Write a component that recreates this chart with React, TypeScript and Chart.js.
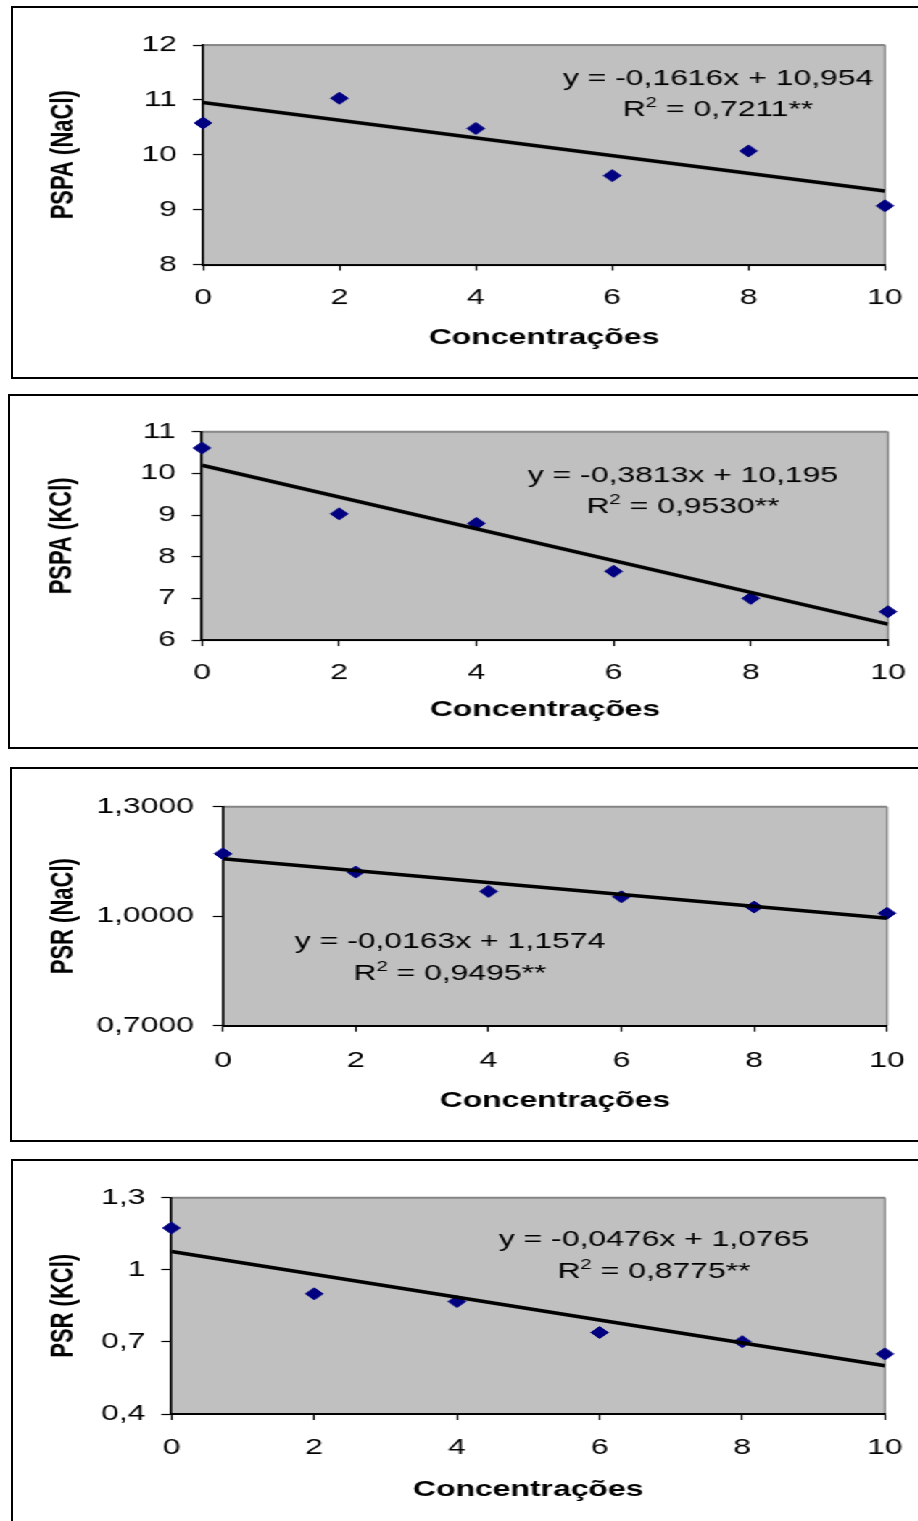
import React, { useEffect, useRef } from "react";
import { Chart, registerables } from "chart.js";

Chart.register(...registerables);

// ---------- data ----------
const xValues = [0, 2, 4, 6, 8, 10];
const xTicks = [0, 2, 4, 6, 8, 10];
const xTickLabels = ["0", "2", "4", "6", "8", "10"];
const xTitle = "Concentrações";

const pspaNaCl = [10.58, 11.03, 10.48, 9.62, 10.07, 9.07];
const pspaKCl = [10.61, 9.03, 8.8, 7.65, 7.0, 6.68];
const psrNaCl = [1.171, 1.121, 1.068, 1.053, 1.025, 1.008];
const psrKCl = [1.174, 0.9, 0.868, 0.739, 0.701, 0.65];

const trendX = [0, 10];
const trendPspaNaCl = [10.954, 9.338];
const trendPspaKCl = [10.195, 6.382];
const trendPsrNaCl = [1.1574, 0.9944];
const trendPsrKCl = [1.0765, 0.6005];

const yTicksPspaNaCl = [8, 9, 10, 11, 12];
const yTickLabelsPspaNaCl = ["8", "9", "10", "11", "12"];
const yTicksPspaKCl = [6, 7, 8, 9, 10, 11];
const yTickLabelsPspaKCl = ["6", "7", "8", "9", "10", "11"];
const yTicksPsrNaCl = [0.7, 1.0, 1.3];
const yTickLabelsPsrNaCl = ["0,7000", "1,0000", "1,3000"];
const yTicksPsrKCl = [0.4, 0.7, 1.0, 1.3];
const yTickLabelsPsrKCl = ["0,4", "0,7", "1", "1,3"];

const yTitles = ["PSPA (NaCl)", "PSPA (KCl)", "PSR (NaCl)", "PSR (KCl)"];
const equations = [
  "y = -0,1616x + 10,954",
  "y = -0,3813x + 10,195",
  "y = -0,0163x + 1,1574",
  "y = -0,0476x + 1,0765",
];
const r2Values = ["0,7211**", "0,9530**", "0,9495**", "0,8775**"];

// ---------- layout (final page pixels) ----------
const S = 1.45; // horizontal stretch of the original figure
const WU = 634; // unscaled canvas width
const XH = 100; // x-axis box height
const FAMILY = '"Liberation Sans", Arial, Helvetica, sans-serif';

const layouts = [
  { box: { l: 11.5, t: 7, b: 378 }, plot: { l: 203, r: 885, t: 45, b: 264.5 }, yTitleX: 64, xLabelY: 298, xTitleY: 338, yPad: 11, eq: { cx: 718, b1: 85, b2: 116 } },
  { box: { l: 9, t: 395, b: 748 }, plot: { l: 202, r: 888, t: 431.7, b: 640 }, yTitleX: 62, xLabelY: 673, xTitleY: 710, yPad: 11, eq: { cx: 683, b1: 482, b2: 513 } },
  { box: { l: 10.5, t: 768, b: 1141 }, plot: { l: 223, r: 887, t: 806.7, b: 1025.7 }, yTitleX: 64, xLabelY: 1061, xTitleY: 1101, yPad: 13, eq: { cx: 450, b1: 948, b2: 980 } },
  { box: { l: 11.5, t: 1160, b: 1560 }, plot: { l: 171.5, r: 885, t: 1197.7, b: 1414 }, yTitleX: 64, xLabelY: 1448, xTitleY: 1490, yPad: 11, eq: { cx: 654, b1: 1246, b2: 1278 } },
];

const panels = [
  { y: pspaNaCl, trend: trendPspaNaCl, yTicks: yTicksPspaNaCl, yLabels: yTickLabelsPspaNaCl },
  { y: pspaKCl, trend: trendPspaKCl, yTicks: yTicksPspaKCl, yLabels: yTickLabelsPspaKCl },
  { y: psrNaCl, trend: trendPsrNaCl, yTicks: yTicksPsrNaCl, yLabels: yTickLabelsPsrNaCl },
  { y: psrKCl, trend: trendPsrKCl, yTicks: yTicksPsrKCl, yLabels: yTickLabelsPsrKCl },
];

function canvasGeom(i: number) {
  const L = layouts[i];
  const top = L.box.t + 2;
  const bottom = Math.min(L.box.b - 2, 1521);
  return { top, height: Math.round(bottom - top) };
}

function Panel({ idx }: { idx: number }) {
  const ref = useRef<HTMLCanvasElement | null>(null);
  const L = layouts[idx];
  const P = panels[idx];
  const g = canvasGeom(idx);

  useEffect(() => {
    const canvas = ref.current;
    if (!canvas) return;
    const plotTop = L.plot.t - g.top;
    const plotBottom = L.plot.b - g.top;
    const padBottom = g.height - plotBottom - XH;
    const xTickPad = L.xLabelY - L.plot.b - 6 - 13.2;
    const xTitlePadB = XH - 13.2 - (L.xTitleY - L.plot.b);
    const yTitlePadT = L.yTitleX / S - 13.2;

    const bgPlugin = {
      id: "plotBg",
      beforeDraw(chart: any) {
        const { ctx, chartArea: a } = chart;
        ctx.save();
        ctx.fillStyle = "#C0C0C0";
        ctx.fillRect(a.left, a.top, a.right - a.left, a.bottom - a.top);
        ctx.strokeStyle = "#858585";
        ctx.lineWidth = 2;
        ctx.beginPath();
        ctx.moveTo(a.left, a.top);
        ctx.lineTo(a.right, a.top);
        ctx.stroke();
        ctx.lineWidth = 1.4;
        ctx.beginPath();
        ctx.moveTo(a.right, a.top);
        ctx.lineTo(a.right, a.bottom);
        ctx.stroke();
        ctx.restore();
      },
    };

    const eqPlugin = {
      id: "equation",
      afterDraw(chart: any) {
        const ctx = chart.ctx;
        ctx.save();
        ctx.fillStyle = "#000";
        ctx.textBaseline = "alphabetic";
        const cx = L.eq.cx / S;
        ctx.font = `22px ${FAMILY}`;
        ctx.textAlign = "center";
        ctx.fillText(equations[idx], cx, L.eq.b1 - g.top);
        const a = "R";
        const b = "2";
        const c = " = " + r2Values[idx];
        ctx.font = `22px ${FAMILY}`;
        const wa = ctx.measureText(a).width;
        const wc = ctx.measureText(c).width;
        ctx.font = `14px ${FAMILY}`;
        const wb = ctx.measureText(b).width;
        const total = wa + wb + wc;
        let x = cx - total / 2;
        const y2 = L.eq.b2 - g.top;
        ctx.textAlign = "left";
        ctx.font = `22px ${FAMILY}`;
        ctx.fillText(a, x, y2);
        x += wa;
        ctx.font = `14px ${FAMILY}`;
        ctx.fillText(b, x, y2 - 9);
        x += wb;
        ctx.font = `22px ${FAMILY}`;
        ctx.fillText(c, x, y2);
        ctx.restore();
      },
    };

    const chart = new Chart(canvas, {
      type: "scatter",
      data: {
        datasets: [
          {
            type: "line",
            data: trendX.map((x, i) => ({ x, y: P.trend[i] })),
            borderColor: "#000",
            borderWidth: 3.5,
            pointRadius: 0,
            tension: 0,
            fill: false,
          } as any,
          {
            type: "scatter",
            data: xValues.map((x, i) => ({ x, y: P.y[i] })),
            pointStyle: "rectRot",
            pointRadius: 6,
            pointBackgroundColor: "#000080",
            pointBorderColor: "#000080",
            pointBorderWidth: 1,
            clip: false,
          } as any,
        ],
      },
      options: {
        animation: false,
        responsive: false,
        maintainAspectRatio: false,
        devicePixelRatio: 1,
        events: [],
        layout: {
          padding: { left: 0, top: plotTop, right: WU - L.plot.r / S, bottom: padBottom },
        },
        plugins: { legend: { display: false }, tooltip: { enabled: false }, title: { display: false } },
        scales: {
          x: {
            type: "linear",
            min: 0,
            max: 10,
            afterBuildTicks: (s: any) => {
              s.ticks = xTicks.map((v) => ({ value: v }));
            },
            afterFit: (s: any) => {
              s.height = XH;
              s.paddingLeft = 0;
              s.paddingRight = 0;
            },
            ticks: {
              callback: (_v: any, i: number) => xTickLabels[i],
              font: { family: FAMILY, size: 22 },
              color: "#000",
              padding: xTickPad,
              maxRotation: 0,
              autoSkip: false,
            },
            grid: { drawOnChartArea: false, drawTicks: true, tickLength: 6, tickColor: "#000", tickWidth: 1.2 },
            border: { display: true, color: "#000", width: 2 },
            title: {
              display: true,
              text: xTitle,
              color: "#000",
              font: { family: FAMILY, size: 22, weight: "bold" },
              padding: { top: 0, bottom: xTitlePadB },
            },
          },
          y: {
            type: "linear",
            min: P.yTicks[0],
            max: P.yTicks[P.yTicks.length - 1],
            afterBuildTicks: (s: any) => {
              s.ticks = P.yTicks.map((v) => ({ value: v }));
            },
            afterFit: (s: any) => {
              s.width = L.plot.l / S;
              s.paddingTop = 0;
              s.paddingBottom = 0;
            },
            ticks: {
              callback: (_v: any, i: number) => P.yLabels[i],
              font: { family: FAMILY, size: 22 },
              color: "#000",
              padding: L.yPad,
              autoSkip: false,
            },
            grid: { drawOnChartArea: false, drawTicks: true, tickLength: 7, tickColor: "#000", tickWidth: 1.2 },
            border: { display: true, color: "#000", width: 1.7 },
            title: {
              display: true,
              text: yTitles[idx],
              color: "#000",
              font: { family: FAMILY, size: 22, weight: "bold" },
              padding: { top: yTitlePadT, bottom: 0 },
            },
          },
        },
      },
      plugins: [bgPlugin, eqPlugin],
    } as any);
    return () => chart.destroy();
  }, []);

  return (
    <canvas
      ref={ref}
      width={WU}
      height={g.height}
      style={{ position: "absolute", left: 0, top: g.top, width: WU, height: g.height, display: "block" }}
    />
  );
}

export default function App() {
  return (
    <div
      style={{
        position: "absolute",
        left: 0,
        top: 0,
        width: 918,
        height: 1521,
        overflow: "hidden",
        background: "#fff",
      }}
    >
      {layouts.map((L, i) => (
        <div
          key={"box" + i}
          style={{
            position: "absolute",
            left: L.box.l - 1,
            top: L.box.t - 1,
            width: 940 - L.box.l,
            height: L.box.b - L.box.t + 2,
            border: "2px solid #000",
            boxSizing: "border-box",
          }}
        />
      ))}
      <div
        style={{
          position: "absolute",
          left: 0,
          top: 0,
          width: WU,
          height: 1521,
          transform: `scaleX(${S})`,
          transformOrigin: "0 0",
        }}
      >
        {layouts.map((_, i) => (
          <Panel key={i} idx={i} />
        ))}
      </div>
    </div>
  );
}
